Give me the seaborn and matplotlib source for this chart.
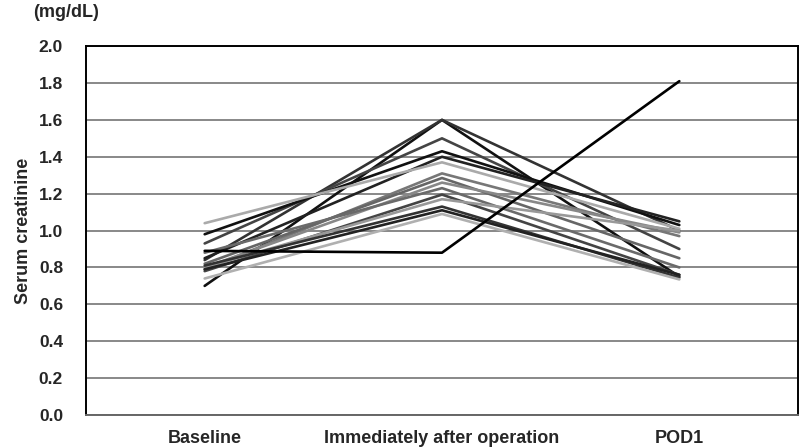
import matplotlib
matplotlib.use("Agg")
import matplotlib.pyplot as plt
import seaborn as sns
import pandas as pd

timepoints = ["Baseline", "Immediately after operation", "POD1"]

baseline = [0.70, 0.84, 0.93, 0.98, 0.85, 1.04, 0.79, 0.82, 0.80, 0.88, 0.78, 0.80, 0.81, 0.79, 0.74, 0.89]
immediate = [1.60, 1.60, 1.50, 1.43, 1.40, 1.37, 1.31, 1.285, 1.26, 1.23, 1.195, 1.17, 1.13, 1.11, 1.09, 0.88]
pod1 = [0.75, 1.00, 0.90, 1.03, 1.05, 1.01, 0.97, 0.85, 0.99, 0.80, 0.76, 1.00, 0.745, 0.76, 0.735, 1.81]
line_colors = ["#111111", "#333333", "#444444", "#111111", "#222222", "#aaaaaa", "#777777", "#666666",
               "#888888", "#6a6a6a", "#444444", "#999999", "#333333", "#222222", "#b0b0b0", "#000000"]

subjects = [f"S{i+1}" for i in range(len(baseline))]
rows = []
for i, s in enumerate(subjects):
    for t, v in zip(timepoints, [baseline[i], immediate[i], pod1[i]]):
        rows.append({"subject": s, "time": t, "value": v})
df = pd.DataFrame(rows)

sns.set_theme(style="white")
plt.rcParams["font.family"] = ["Liberation Sans", "DejaVu Sans"]

fig = plt.figure(figsize=(8, 4.48), dpi=100)
ax = fig.add_axes([0.1075, 0.0737, 0.89, 0.8233])

sns.lineplot(data=df, x="time", y="value", hue="subject", palette=dict(zip(subjects, line_colors)),
             legend=False, sort=False, linewidth=1.9, ax=ax, zorder=3)

ax.set_xlim(-0.5, 2.5)
ax.set_ylim(0, 2.0)
ax.set_yticks([i / 5 for i in range(11)])
ax.set_yticklabels([f"{i/5:.1f}" for i in range(11)], fontsize=12.5, fontweight="bold")
ax.set_xticks(range(3))
ax.set_xticklabels(timepoints, fontsize=13, fontweight="bold")
ax.tick_params(axis="y", length=0, pad=16.5)
ax.tick_params(axis="x", length=0, pad=11)
ax.yaxis.grid(True, color="#888888", linewidth=1.4)
ax.set_axisbelow(True)
ax.set_xlabel("")
ax.set_ylabel("Serum creatinine", fontsize=13, fontweight="bold", labelpad=5)
for side in ["left", "top", "right"]:
    ax.spines[side].set_color("#000000")
    ax.spines[side].set_linewidth(1.4)
ax.spines["bottom"].set_color("#666666")
ax.spines["bottom"].set_linewidth(1.4)

fig.text(0.041, 0.972, "(mg/dL)", fontsize=13, fontweight="bold", ha="left", va="center")

fig.savefig("out.png", dpi=100)
